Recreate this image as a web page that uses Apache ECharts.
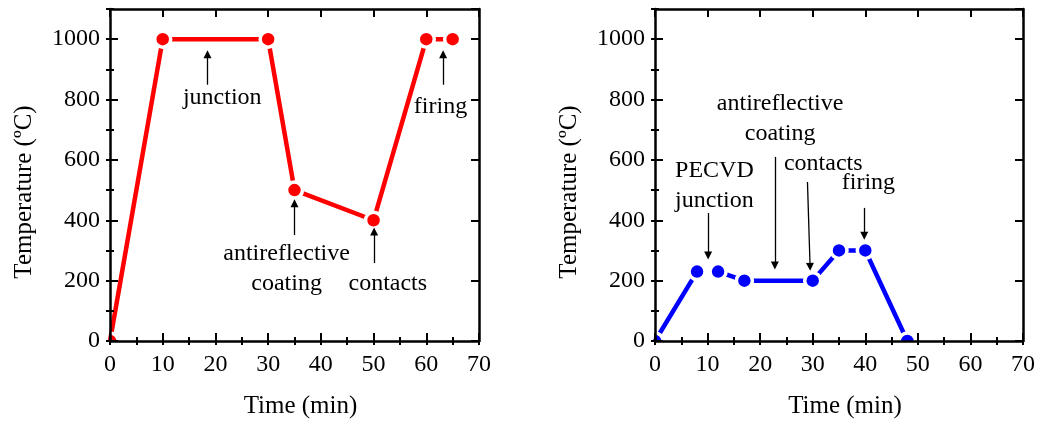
<!DOCTYPE html>
<html><head><meta charset="utf-8">
<script src="https://cdn.jsdelivr.net/npm/echarts@6/dist/echarts.min.js"></script>
<style>html,body{margin:0;padding:0;background:#fff}#c{width:1038px;height:421px}</style>
</head><body><div id="c"></div>
<script>
// ---- data ----
const leftTime = [0, 10, 30, 35, 50, 60, 65];
const leftTemp = [0, 1000, 1000, 500, 400, 1000, 1000];
const rightTime = [0, 8, 10, 12, 17, 30, 35, 40, 48];
const rightTemp = [0, 230, '-', 230, 200, 200, 300, 300, 0]; // '-' = break in the line
const xTickValues = [0, 10, 20, 30, 40, 50, 60, 70];
const yTickValues = [0, 200, 400, 600, 800, 1000];
// annotations: [text, x, y]
const leftLabels = [['junction', 21.3, 806], ['firing', 62.7, 776], ['antireflective\ncoating', 33.5, 241], ['contacts', 52.7, 191]];
// arrows: [xFrom, yFrom, xTo, yTo]
const leftArrows = [[18.5, 849, 18.5, 950], [63.2, 849, 63.2, 950], [35.0, 351, 35.0, 456], [50.1, 258, 50.1, 363]];
const rightLabels = [['PECVD\njunction', 11.3, 514], ['antireflective\ncoating', 23.8, 738], ['contacts', 32.0, 587], ['firing', 40.6, 524]];
const rightArrows = [[10.1, 424, 10.1, 283], [22.8, 610, 22.8, 250], [29.0, 527, 29.5, 246], [39.8, 441, 39.8, 349]];

const FONT = 'Liberation Serif';
const grids = [
  {left: 110, right: 559, top: 9, bottom: 80, outerBoundsMode: 'none', containLabel: false},
  {left: 655, right: 15, top: 9, bottom: 80, outerBoundsMode: 'none', containLabel: false}
];
const gridOpts = [];
const xAxes = [], yAxes = [];
function addAxes(g) {
  const base = gridOpts.length;
  gridOpts.push(Object.assign({}, grids[g]));
  gridOpts.push(Object.assign({}, grids[g]));
  const lineOn = {show: true, onZero: false, lineStyle: {color: '#000', width: 2.5}};
  const tickMajor = {show: true, inside: true, length: 8, lineStyle: {color: '#000', width: 2}};
  const tickMinor = {show: true, inside: true, length: 4, lineStyle: {color: '#000', width: 2}};
  const lbl = {show: true, color: '#000', fontFamily: FONT, fontSize: 24, margin: 12};
  const Z = 5;
  // major grid
  xAxes.push({type: 'value', gridIndex: base, position: 'bottom', min: 0, max: 70, interval: 10, z: Z,
    axisLine: lineOn, axisTick: tickMajor, splitLine: {show: false},
    axisLabel: Object.assign({}, lbl, {formatter: v => xTickValues.includes(v) ? String(v) : ''}),
    name: 'Time (min)', nameLocation: 'middle', nameGap: 53,
    nameTextStyle: {color: '#000', fontFamily: FONT, fontSize: 25, padding: [0, 0, 0, 12]}});
  xAxes.push({type: 'value', gridIndex: base, position: 'top', min: 0, max: 70, interval: 10, z: Z,
    axisLine: lineOn, axisTick: tickMajor, splitLine: {show: false}, axisLabel: {show: false}});
  yAxes.push({type: 'value', gridIndex: base, position: 'left', min: 0, max: 1100, interval: 200, z: Z,
    axisLine: lineOn, axisTick: tickMajor, splitLine: {show: false},
    axisLabel: Object.assign({}, lbl, {margin: 10, showMaxLabel: false, formatter: v => yTickValues.includes(v) ? String(v) : ''}),
    name: 'Temperature (ºC)', nameLocation: 'middle', nameGap: 73,
    nameTextStyle: {color: '#000', fontFamily: FONT, fontSize: 25, padding: [0, 34, 0, 0]}});
  yAxes.push({type: 'value', gridIndex: base, position: 'right', min: 0, max: 1100, interval: 200, z: Z,
    axisLine: lineOn, axisTick: tickMajor, splitLine: {show: false}, axisLabel: {show: false}});
  // minor grid
  xAxes.push({type: 'value', gridIndex: base + 1, position: 'bottom', min: 0, max: 70, interval: 5, z: Z,
    axisLine: {show: false}, axisTick: tickMinor, splitLine: {show: false}, axisLabel: {show: false}});
  xAxes.push({type: 'value', gridIndex: base + 1, position: 'top', min: 0, max: 70, interval: 5, z: Z,
    axisLine: {show: false}, axisTick: tickMinor, splitLine: {show: false}, axisLabel: {show: false}});
  yAxes.push({type: 'value', gridIndex: base + 1, position: 'left', min: 0, max: 1100, interval: 100, z: Z,
    axisLine: {show: false}, axisTick: tickMinor, splitLine: {show: false}, axisLabel: {show: false}});
  yAxes.push({type: 'value', gridIndex: base + 1, position: 'right', min: 0, max: 1100, interval: 100, z: Z,
    axisLine: {show: false}, axisTick: tickMinor, splitLine: {show: false}, axisLabel: {show: false}});
  return {x: xAxes.length - 4, y: yAxes.length - 4};
}
const A0 = addAxes(0);
const A1 = addAxes(1);

function makeSeries(axes, times, temps, color, labels, arrows) {
  const pts = times.map((t, i) => [t, temps[i]]);
  const line = {
    type: 'line', xAxisIndex: axes.x, yAxisIndex: axes.y,
    data: pts, connectNulls: false,
    lineStyle: {color: color, width: 4.5},
    symbol: 'none', z: 2,
    markPoint: {
      symbol: 'circle', symbolSize: 0, silent: true,
      label: {show: true, position: 'inside', color: '#000', fontFamily: FONT, fontSize: 24, lineHeight: 30,
        formatter: p => p.name},
      data: labels.map(l => ({name: l[0], coord: [l[1], l[2]]}))
    },
    markLine: {
      silent: true, symbol: ['none', 'triangle'], symbolSize: 8, precision: 5,
      label: {show: false},
      lineStyle: {color: '#000', width: 1.3, type: 'solid'},
      emphasis: {disabled: true},
      data: arrows.map(a => [{coord: [a[0], a[1]]}, {coord: [a[2], a[3]]}])
    }
  };
  const markers = {
    type: 'custom', xAxisIndex: axes.x, yAxisIndex: axes.y, clip: true, z: 3, silent: true,
    data: pts.filter(p => p[1] !== '-'),
    renderItem: (params, api) => {
      const c = api.coord([api.value(0), api.value(1)]);
      return {type: 'circle', shape: {cx: c[0], cy: c[1], r: 8},
        style: {fill: color, stroke: '#fff', lineWidth: 3.5}};
    }
  };
  return [line, markers];
}

const chart = echarts.init(document.getElementById('c'), null, {renderer: 'canvas'});
chart.setOption({
  animation: false,
  backgroundColor: '#fff',
  grid: gridOpts,
  xAxis: xAxes,
  yAxis: yAxes,
  series: [
    ...makeSeries(A0, leftTime, leftTemp, '#ff0000', leftLabels, leftArrows),
    ...makeSeries(A1, rightTime, rightTemp, '#0000ff', rightLabels, rightArrows)
  ]
});
</script></body></html>
